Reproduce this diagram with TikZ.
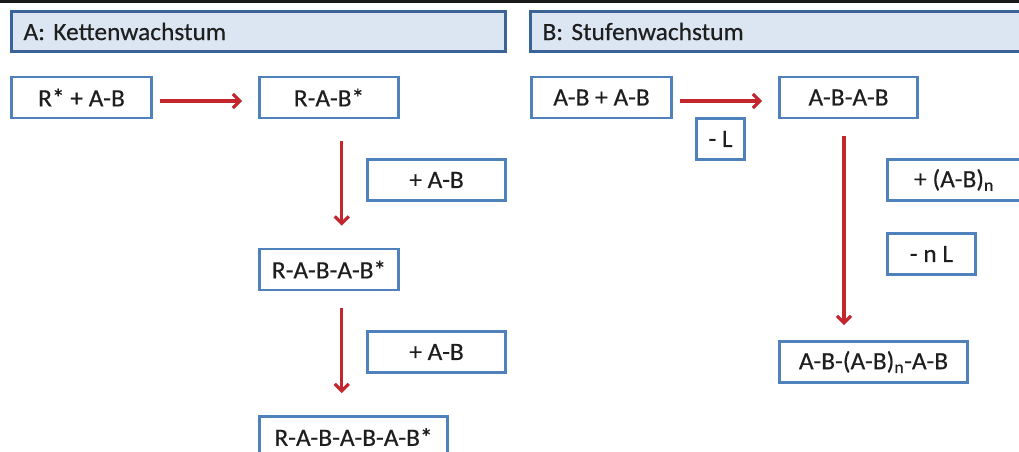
\documentclass[tikz,border=0pt]{standalone}
\usepackage{fontspec}
\setmainfont{Carlito}[FakeStretch=1.02, FakeBold=0.4]
\usetikzlibrary{arrows.meta}

\definecolor{boxblue}{HTML}{4F81BD}
\definecolor{headblue}{HTML}{3A6397}
\definecolor{headfill}{HTML}{DCE6F2}
\definecolor{arrowred}{HTML}{C3262C}
\definecolor{txt}{HTML}{1E1E1E}

\tikzset{
  stepbox/.style={draw=boxblue, line width=2.7bp, fill=white, inner sep=0pt,
    minimum height=41bp, text=txt, font=\fontsize{25}{29}\selectfont},
  headbox/.style={draw=headblue, line width=3bp, fill=headfill, inner xsep=12bp,
    inner ysep=0pt, minimum height=40bp, text width=470bp, align=left,
    text=txt, font=\fontsize{25}{29}\selectfont},
  flow/.style={draw=arrowred, line width=3.2bp,
    -{Straight Barb[length=7bp, width=14bp, line width=3.2bp]}},
}

\begin{document}
\begin{tikzpicture}[x=1bp, y=-1bp]
  \useasboundingbox (0,0) rectangle (1019,452);
  \clip (0,0) rectangle (1019,452);

  % top rule
  \draw[line width=3bp, black!90] (0,2) -- (1019,2);

  % section headers
  \node[headbox] (ha) at (258.5,31.5) {A: Kettenwachstum};
  \node[headbox] (hb) at (777.5,31.5) {B: Stufenwachstum};

  % A: chain growth
  \node[stepbox, minimum width=140bp] (r1) at (81.5,97.5) {R* + A-B};
  \node[stepbox, minimum width=139bp] (r2) at (329,97.5) {R-A-B*};
  \node[stepbox, minimum width=138bp] (pa1) at (436.5,180) {+ A-B};
  \node[stepbox, minimum width=139bp] (r3) at (329,269.5) {R-A-B-A-B*};
  \node[stepbox, minimum width=138bp] (pa2) at (436.5,352) {+ A-B};
  \node[stepbox, minimum width=188bp] (r4) at (353.5,437) {R-A-B-A-B-A-B*};

  \draw[flow] ([shift={(7,3.5)}]r1.east) -- ([shift={(-16,3.5)}]r2.west);
  \draw[flow] ([shift={(12.7,22)}]r2.south) -- ([shift={(12.7,-22)}]r3.north);
  \draw[flow] ([shift={(12.7,17)}]r3.south) -- ([shift={(12.7,-22)}]r3.south |- r4.north);

  % B: step growth
  \node[stepbox, minimum width=140bp] (b1) at (601.5,97.5) {A-B + A-B};
  \node[stepbox, minimum width=138bp] (b2) at (848.5,97.5) {A-B-A-B};
  \node[stepbox, minimum width=48bp] (ml) at (720.5,139) {- L};
  \node[stepbox, minimum width=133bp] (pn) at (954,180) {+ (A-B)\textsubscript{n}};
  \node[stepbox, minimum width=88bp] (mnl) at (931.5,254) {- n L};
  \node[stepbox, minimum width=188bp] (b3) at (873.5,362) {A-B-(A-B)\textsubscript{n}-A-B};

  \draw[flow] ([shift={(7,3.5)}]b1.east) -- ([shift={(-16,3.5)}]b2.west);
  \draw[flow] ([shift={(-4.5,17)}]b2.south) -- ([shift={(-4.5,-15)}]b2.south |- b3.north);
\end{tikzpicture}
\end{document}
